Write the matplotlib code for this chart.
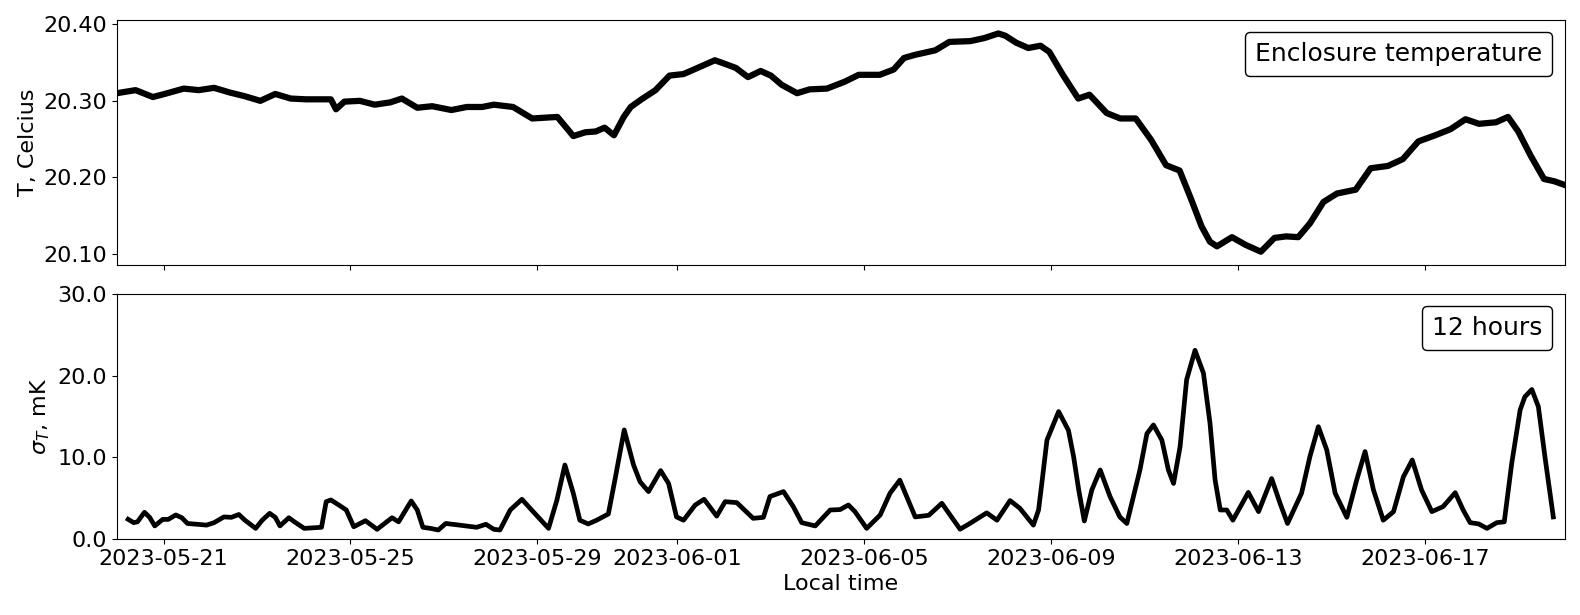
import matplotlib
matplotlib.use("Agg")
import matplotlib.pyplot as plt
import matplotlib.dates as mdates
from matplotlib.offsetbox import AnchoredText
import pandas as pd

START = "2023-05-20"
END = "2023-06-20"

# Enclosure temperature: days after 2023-05-20 00:00, value in Celsius
temp_days = [0.00, 0.40, 0.77, 1.02, 1.43, 1.75, 2.08, 2.41, 2.74, 3.07, 3.39, 3.72,
             4.05, 4.58, 4.69, 4.87, 5.20, 5.52, 5.85, 6.10, 6.43, 6.75, 7.16, 7.49,
             7.82, 8.07, 8.48, 8.89, 9.43, 9.77, 10.03, 10.25, 10.44, 10.64, 10.85,
             11.00, 11.23, 11.53, 11.83, 12.13, 12.43, 12.80, 13.03, 13.25, 13.51,
             13.78, 14.00, 14.23, 14.56, 14.83, 15.20, 15.58, 15.88, 16.33, 16.63,
             16.85, 17.08, 17.52, 17.82, 18.27, 18.57, 18.87, 19.02, 19.25, 19.51,
             19.77, 19.96, 20.25, 20.58, 20.82, 21.19, 21.48, 21.81, 22.14, 22.46,
             22.75, 23.00, 23.22, 23.40, 23.55, 23.87, 24.16, 24.49, 24.78, 25.03,
             25.29, 25.54, 25.83, 26.12, 26.52, 26.84, 27.21, 27.53, 27.86, 28.22,
             28.55, 28.87, 29.16, 29.52, 29.78, 30.00, 30.26, 30.55, 30.77, 31.00]
temp_values = [20.310, 20.314, 20.305, 20.309, 20.316, 20.314, 20.317, 20.311, 20.306,
               20.300, 20.309, 20.303, 20.302, 20.302, 20.289, 20.299, 20.300, 20.295,
               20.298, 20.303, 20.291, 20.293, 20.288, 20.292, 20.292, 20.295, 20.292,
               20.277, 20.279, 20.254, 20.259, 20.260, 20.265, 20.255, 20.279, 20.292,
               20.302, 20.314, 20.333, 20.335, 20.343, 20.353, 20.348, 20.343, 20.331,
               20.339, 20.333, 20.321, 20.310, 20.315, 20.316, 20.325, 20.334, 20.334,
               20.341, 20.356, 20.360, 20.366, 20.377, 20.378, 20.382, 20.388, 20.385,
               20.376, 20.369, 20.372, 20.364, 20.334, 20.303, 20.308, 20.284, 20.277,
               20.277, 20.249, 20.216, 20.209, 20.171, 20.136, 20.116, 20.110, 20.122,
               20.112, 20.103, 20.121, 20.123, 20.122, 20.140, 20.168, 20.179, 20.184,
               20.212, 20.215, 20.224, 20.247, 20.255, 20.263, 20.276, 20.270, 20.272,
               20.279, 20.260, 20.229, 20.198, 20.195, 20.190]

# 12-hour standard deviation, mK
sigma_days = [0.24, 0.36, 0.44, 0.59, 0.70, 0.81, 0.98, 1.10, 1.26, 1.39, 1.51, 1.71,
              1.92, 2.08, 2.29, 2.45, 2.61, 2.74, 2.97, 3.11, 3.27, 3.39, 3.49, 3.68,
              3.80, 4.01, 4.38, 4.48, 4.58, 4.75, 4.91, 5.07, 5.32, 5.57, 5.73, 5.89,
              6.03, 6.30, 6.43, 6.55, 6.71, 6.88, 7.04, 7.33, 7.70, 7.90, 8.07,
              8.20, 8.42, 8.67, 8.91, 9.24, 9.42, 9.59, 9.77, 9.91, 10.09, 10.27,
              10.52, 10.66, 10.86, 11.06, 11.20, 11.38, 11.64, 11.81, 11.98, 12.13,
              12.38, 12.57, 12.84, 13.02, 13.27, 13.62, 13.84, 13.98, 14.27, 14.48,
              14.66, 14.95, 15.27, 15.48, 15.66, 15.80, 16.05, 16.34, 16.55, 16.76,
              17.09, 17.38, 17.66, 17.84, 18.05, 18.26, 18.62, 18.84, 19.12, 19.33,
              19.62, 19.73, 19.80, 19.91, 20.16, 20.37, 20.48, 20.59, 20.71, 20.87,
              21.05, 21.26, 21.47, 21.62, 21.90, 22.05, 22.19, 22.37, 22.51, 22.62,
              22.76, 22.90, 23.08, 23.26, 23.40, 23.51, 23.62, 23.76, 23.89, 24.22,
              24.44, 24.72, 24.90, 25.06, 25.36, 25.54, 25.72, 25.90, 26.08, 26.33,
              26.54, 26.72, 26.90, 27.11, 27.33, 27.54, 27.73, 27.93, 28.15, 28.39,
              28.65, 28.82, 28.97, 29.15, 29.33, 29.54, 29.70, 29.86, 30.04, 30.14,
              30.29, 30.43, 30.57, 30.75]
sigma_values = [2.41, 2.0, 2.1, 3.27, 2.65, 1.6, 2.4, 2.4, 2.94, 2.6, 1.9, 1.8,
                1.7, 2.0, 2.7, 2.65, 3.0, 2.3, 1.3, 2.3, 3.14, 2.65, 1.6, 2.6,
                2.1, 1.3, 1.43, 4.57, 4.78, 4.16, 3.55, 1.5, 2.24, 1.18, 1.9, 2.6,
                2.1, 4.65, 3.55, 1.43, 1.3, 1.1, 1.9, 1.7, 1.43, 1.8, 1.18,
                1.1, 3.55, 4.86, 3.35, 1.3, 4.78, 9.06, 5.6, 2.3, 1.84, 2.3,
                3.06, 7.2, 13.35, 9.06, 7.0, 5.8, 8.37, 6.8, 2.7, 2.3,
                4.16, 4.86, 2.8, 4.57, 4.45, 2.53, 2.65, 5.2, 5.8, 3.96,
                2.0, 1.6, 3.55, 3.6, 4.16, 3.35, 1.3, 2.94, 5.6, 7.2,
                2.7, 2.9, 4.37, 2.9, 1.2, 1.9, 3.2, 2.3, 4.7, 3.76,
                1.7, 3.55, 6.8, 12.1, 15.6, 13.3, 10.1, 6.0, 2.2, 6.0,
                8.45, 5.2, 2.7, 1.9, 8.45, 12.9, 13.96, 12.1, 8.45, 6.8,
                11.3, 19.5, 23.1, 20.3, 14.2, 7.2, 3.55, 3.55, 2.3, 5.7,
                3.35, 7.4, 4.37, 1.9, 5.6, 10.1, 13.75, 10.9, 5.6, 2.65,
                7.2, 10.7, 6.0, 2.3, 3.35, 7.6, 9.67, 6.0, 3.35, 3.96,
                5.67, 3.55, 2.0, 1.85, 1.3, 2.0, 2.1, 9.27, 15.8, 17.4,
                18.3, 16.2, 10.1, 2.7]

temp_yticks = [20.10, 20.20, 20.30, 20.40]
sigma_yticks = [0.0, 10.0, 20.0, 30.0]

t0 = pd.Timestamp(START)
temp_time = t0 + pd.to_timedelta(temp_days, unit="D")
sigma_time = t0 + pd.to_timedelta(sigma_days, unit="D")

plt.rcParams["font.family"] = ["DejaVu Sans"]
plt.rcParams["font.size"] = 16

fig, (ax1, ax2) = plt.subplots(2, 1, sharex=True, figsize=(15.8, 6.15), dpi=100)
fig.subplots_adjust(left=0.074, right=0.9905, top=0.9675, bottom=0.1236, hspace=0.118)

ax1.plot(temp_time, temp_values, color="black", lw=4.5, solid_joinstyle="round")
ax1.set_ylim(20.0856, 20.4056)
ax1.set_yticks(temp_yticks)
ax1.set_yticklabels([f"{v:.2f}" for v in temp_yticks])
ax1.set_ylabel("T, Celcius")
at1 = AnchoredText("Enclosure temperature", loc="upper right", prop=dict(size=18),
                   frameon=True)
at1.patch.set_boxstyle("round,pad=0.,rounding_size=0.2")
ax1.add_artist(at1)

ax2.plot(sigma_time, sigma_values, color="black", lw=3.4, solid_joinstyle="round")
ax2.set_ylim(0, 30)
ax2.set_yticks(sigma_yticks)
ax2.set_yticklabels([f"{v:.1f}" for v in sigma_yticks])
ax2.set_ylabel(r"$\sigma_T$, mK")
ax2.set_xlabel("Local time")
at2 = AnchoredText("12 hours", loc="upper right", prop=dict(size=18), frameon=True)
at2.patch.set_boxstyle("round,pad=0.,rounding_size=0.2")
ax2.add_artist(at2)

ax2.set_xlim(pd.Timestamp(START), pd.Timestamp(END))
ax2.xaxis.set_major_locator(mdates.DayLocator(bymonthday=[1, 5, 9, 13, 17, 21, 25, 29]))
ax2.xaxis.set_major_formatter(mdates.DateFormatter("%Y-%m-%d"))

for ax in (ax1, ax2):
    ax.tick_params(labelsize=16)

fig.savefig("out.png", dpi=100)
